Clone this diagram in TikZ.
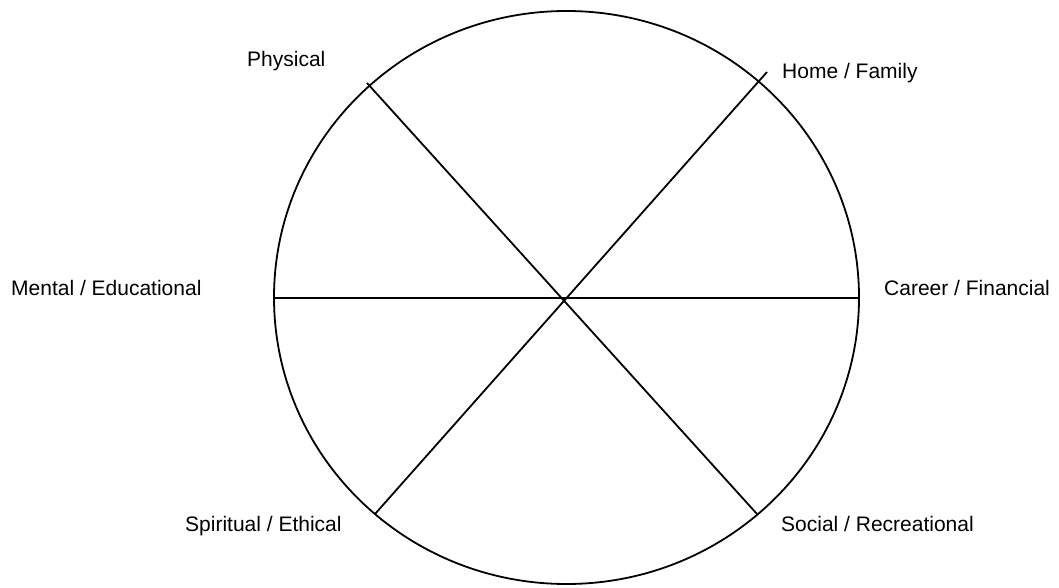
\documentclass[tikz,border=0pt]{standalone}
\usepackage{fontspec}
\setmainfont{Liberation Sans}
\usetikzlibrary{shapes.geometric}
\begin{document}
\begin{tikzpicture}[x=1pt,y=-1pt,
  rim/.style={line width=1.8pt},
  spoke/.style={line width=1.8pt},
  lbl/.style={anchor=base west,inner sep=0pt,font=\fontsize{21}{25}\selectfont}]
\useasboundingbox[fill=white] (0,0) rectangle (1059,588);
\node[draw,rim,ellipse,minimum width=585pt,minimum height=573pt,inner sep=0pt] (wheel) at (566.5,297.5) {};
\coordinate (c) at (565,298);
\coordinate (pA) at (367,83);
\coordinate (pB) at (757,514);
\coordinate (hA) at (767,72);
\coordinate (hB) at (375,514);
\coordinate (mA) at (274,298);
\coordinate (mB) at (859,298);
\draw[spoke] (pA) -- (pB);
\draw[spoke] (hA) -- (hB);
\draw[spoke] (mA) -- (mB);
\node[lbl] (phys) at (247,67) {Physical};
\node[lbl] (home) at (782,79) {Home / Family};
\node[lbl] (ment) at (11,295) {Mental / Educational};
\node[lbl] (car) at (884,295) {Career / Financial};
\node[lbl] (spir) at (185,531) {Spiritual / Ethical};
\node[lbl] (soc) at (781,531) {Social / Recreational};
\end{tikzpicture}
\end{document}
